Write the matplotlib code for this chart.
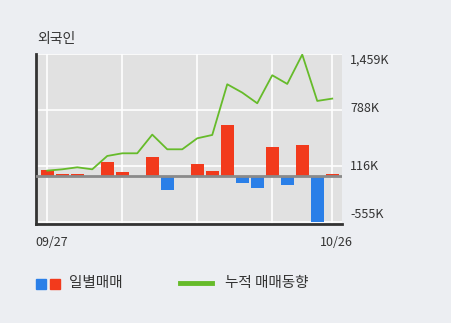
import matplotlib
matplotlib.use("Agg")
import matplotlib.pyplot as plt
from matplotlib.patches import Rectangle
from matplotlib.lines import Line2D

plt.rcParams['font.family'] = ['Noto Sans CJK KR', 'DejaVu Sans']

dates = ["09/27", "", "", "", "", "", "", "", "", "", "", "", "", "", "", "", "", "", "", "10/26"]
daily = [68, 20, 20, -20, 164, 44, 0, 228, -168, 0, 140, 56, 608, -84, -144, 348, -108, 372, -552, 20]
cumulative = [60, 76, 100, 76, 236, 268, 268, 492, 316, 316, 448, 488, 1096, 996, 868, 1204, 1100, 1452, 896, 924]
ytick_vals = [-555, 116, 788, 1459]
ytick_labels = ["-555K", "116K", "788K", "1,459K"]
title = "외국인"
legend_daily = "일별매매"
legend_cum = "누적 매매동향"

RED = "#f23a1c"
BLUE = "#2a7fe8"
GREEN = "#66bb2a"
BG = "#eceef2"
PLOT_BG = "#e1e1e1"

fig = plt.figure(figsize=(4.51, 3.23), dpi=100, facecolor=BG)
ax = fig.add_axes([36/451, 1-224/323, (342-36)/451, (224-54)/323])
ax.set_facecolor(PLOT_BG)

x = list(range(len(daily)))
colors = [RED if v >= 0 else BLUE for v in daily]
ax.bar(x, daily, width=0.86, color=colors, zorder=3)
ax.axhline(0, color="#8a8a8a", lw=2, zorder=4)
ax.plot(x, cumulative, color=GREEN, lw=1.3, zorder=5)

ax.set_xlim(-0.75, 19.65)
ax.set_ylim(-580, 1459)
ax.set_yticks(ytick_vals)
ax.set_xticks([0, 5, 10, 15, 19])
ax.grid(True, color="white", lw=1.2, zorder=1)
ax.tick_params(length=0, labelleft=False, labelbottom=False)
for s in ["top", "right"]:
    ax.spines[s].set_visible(False)
for s in ["left", "bottom"]:
    ax.spines[s].set_color("#333333")
    ax.spines[s].set_linewidth(2)

# y labels placed to the right, nudged inward at the extremes like the reference
label_offsets_px = [-7, 1, -1, 6]  # positive moves label down (in pixels)
ax_bottom = 1 - 224/323
ax_height = (224 - 54)/323
ymin, ymax = ax.get_ylim()
for v, lab, off in zip(ytick_vals, ytick_labels, label_offsets_px):
    frac = (v - ymin) / (ymax - ymin)
    yf = ax_bottom + frac * ax_height - off/323
    fig.text(350/451, yf, lab, ha="left", va="center", fontsize=9, color="#333333")

fig.text(37/451, 1-39/323, title, ha="left", va="center", fontsize=10, color="#333333")
fig.text(52/451, 1-242/323, dates[0], ha="center", va="center", fontsize=9, color="#333333")
fig.text(336/451, 1-242/323, dates[-1], ha="center", va="center", fontsize=9, color="#333333")

# legend
fig.patches.append(Rectangle((36/451, 1-288.5/323), 10/451, 10/323, transform=fig.transFigure, color=BLUE))
fig.patches.append(Rectangle((50/451, 1-288.5/323), 10/451, 10/323, transform=fig.transFigure, color=RED))
fig.text(69/451, 1-283/323, legend_daily, ha="left", va="center", fontsize=10.5, color="#333333")
fig.lines.append(Line2D([180/451, 212/451], [1-283/323, 1-283/323], transform=fig.transFigure, color=GREEN, lw=3.5))
fig.text(225/451, 1-283/323, legend_cum, ha="left", va="center", fontsize=10.5, color="#333333")

fig.savefig("out.png", dpi=100, facecolor=BG)
